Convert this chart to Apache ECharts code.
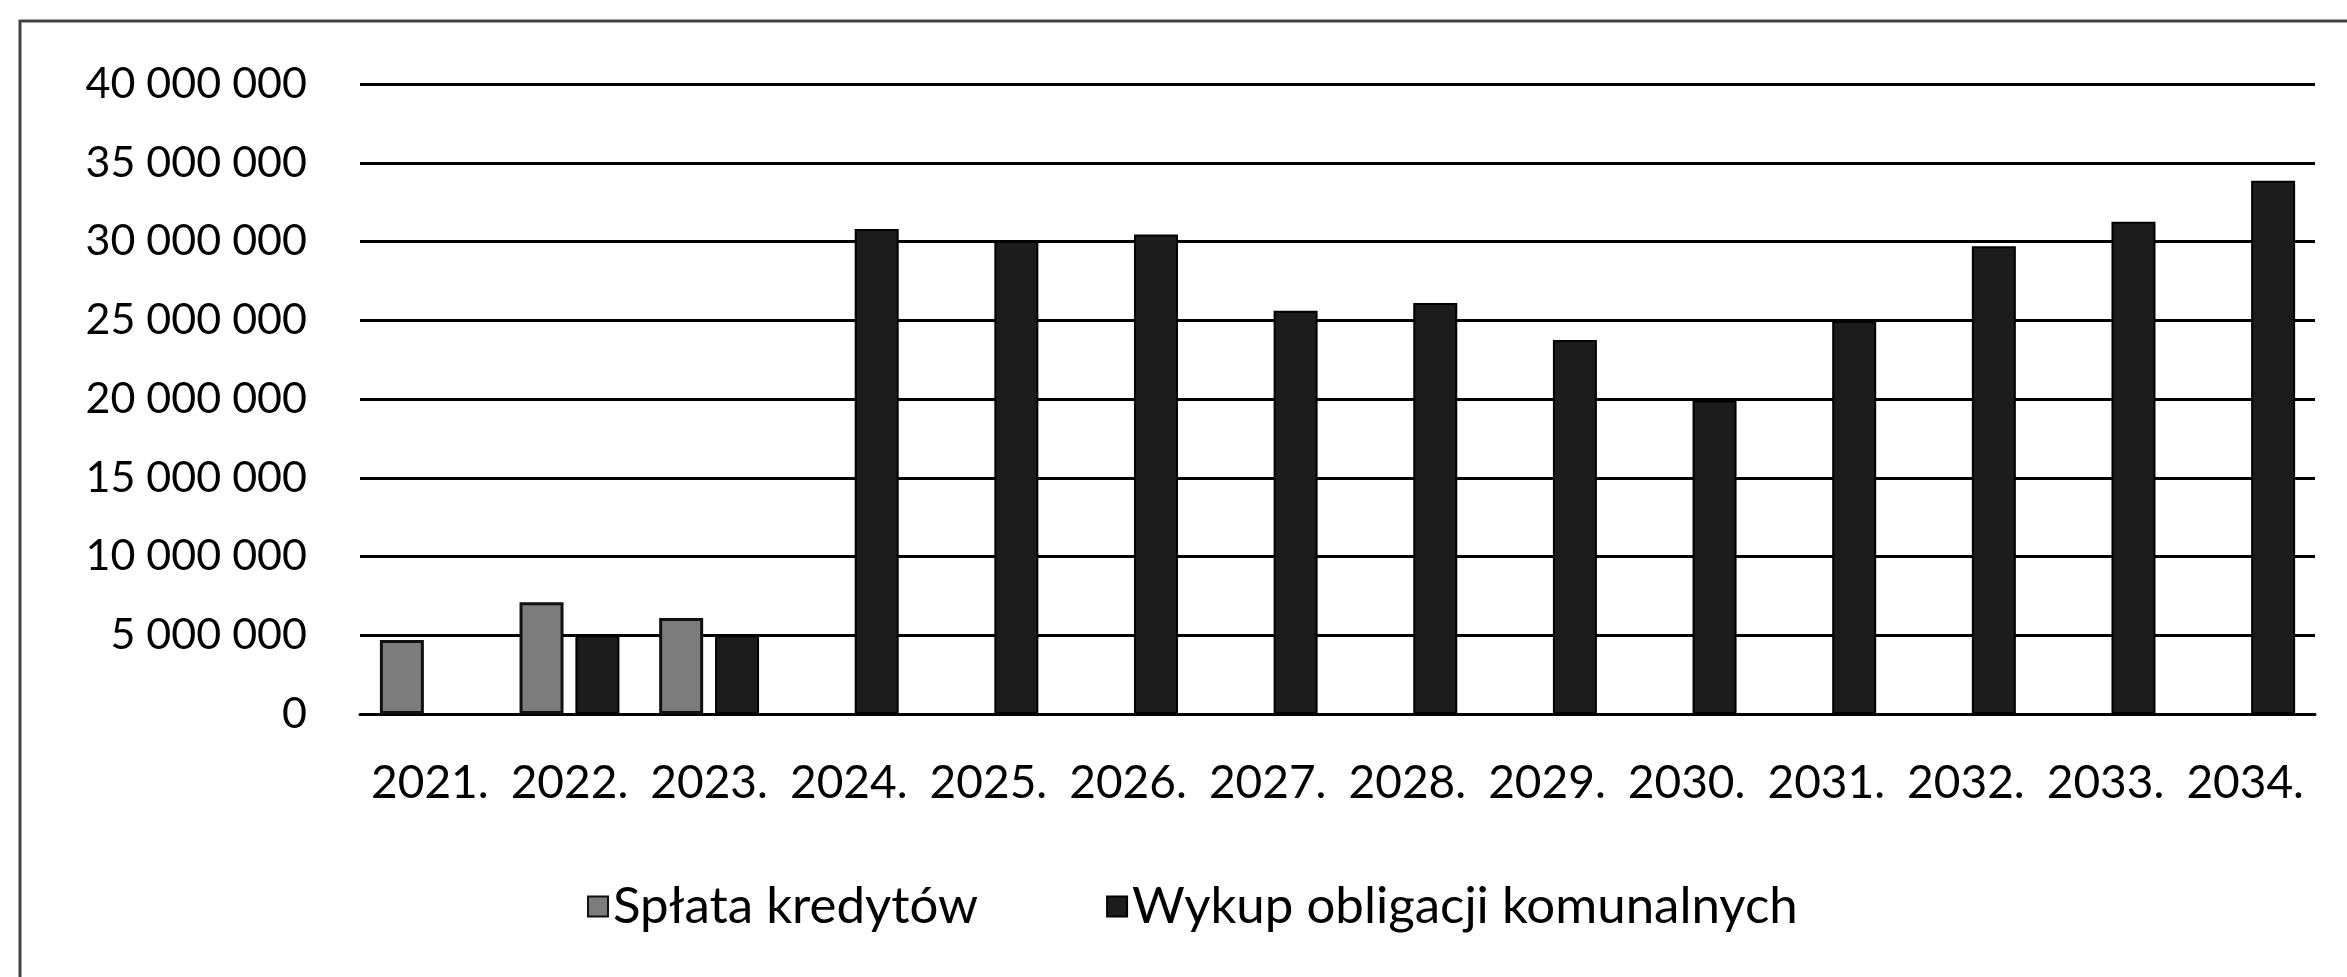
<!DOCTYPE html>
<html>
<head>
<meta charset="utf-8">
<script src="https://cdn.jsdelivr.net/npm/echarts@6/dist/echarts.min.js"></script>
<style>
    html, body { margin: 0; padding: 0; background: #fff; }
    #chart_1 { width: 2347px; height: 977px; }
</style>
</head>
<body>
<div id="chart_1"></div>
<script>
// dane
var lata = ['2021.', '2022.', '2023.', '2024.', '2025.', '2026.', '2027.',
            '2028.', '2029.', '2030.', '2031.', '2032.', '2033.', '2034.'];
var splataKredytow = [4700000, 7100000, 6100000, null, null, null, null,
                      null, null, null, null, null, null, null];
var wykupObligacji = [null, 5000000, 5000000, 30800000, 30050000, 30450000, 25600000,
                      26100000, 23750000, 19900000, 24950000, 29700000, 31250000, 33850000];
var osY = {min: 0, max: 40000000, interval: 5000000};

(function () {
    var myChart = echarts.init(document.getElementById('chart_1'));
    var font = 'Lato';

    // 40000000 -> "40 000 000"
    function spacje(v) {
        return String(v).replace(/\B(?=(\d{3})+(?!\d))/g, ' ');
    }

    var option = {
        backgroundColor: '#fff',
        animation: false,
        grid: {
            left: 360,
            right: 32,
            top: 84,
            bottom: 263
        },
        legend: {
            bottom: 40,
            left: 582,
            icon: 'rect',
            itemWidth: 20,
            itemHeight: 20,
            itemGap: 128,
            textStyle: {fontFamily: font, fontSize: 51, color: '#000'},
            data: ['Spłata kredytów', 'Wykup obligacji komunalnych']
        },
        xAxis: {
            type: 'category',
            data: lata,
            axisTick: {show: false},
            axisLine: {lineStyle: {color: '#000', width: 3}},
            axisLabel: {
                fontFamily: font,
                fontSize: 46,
                color: '#000',
                margin: 46,
                interval: 0
            }
        },
        yAxis: {
            type: 'value',
            min: osY.min,
            max: osY.max,
            interval: osY.interval,
            axisLine: {show: false},
            axisTick: {show: false},
            splitLine: {lineStyle: {color: '#000', width: 3}},
            axisLabel: {
                fontFamily: font,
                fontSize: 43,
                color: '#000',
                margin: 53,
                formatter: spacje
            }
        },
        series: [
            {
                name: 'Spłata kredytów',
                type: 'bar',
                data: splataKredytow,
                barWidth: 44,
                barGap: '27%',
                itemStyle: {
                    color: '#7c7c7c',
                    borderColor: '#111',
                    borderWidth: 3
                }
            },
            {
                name: 'Wykup obligacji komunalnych',
                type: 'bar',
                data: wykupObligacji,
                barWidth: 44,
                barGap: '27%',
                itemStyle: {
                    color: '#1c1c1c',
                    borderColor: '#000',
                    borderWidth: 2
                }
            }
        ],
        graphic: [
            {
                // ramka wykresu
                type: 'polyline',
                shape: {points: [[20, 977], [20, 21], [2347, 21]]},
                style: {stroke: '#444', lineWidth: 3, fill: null}
            }
        ]
    };

    myChart.setOption(option);
    window.addEventListener('resize', function () {
        myChart.resize();
    });
})();
</script>
</body>
</html>
